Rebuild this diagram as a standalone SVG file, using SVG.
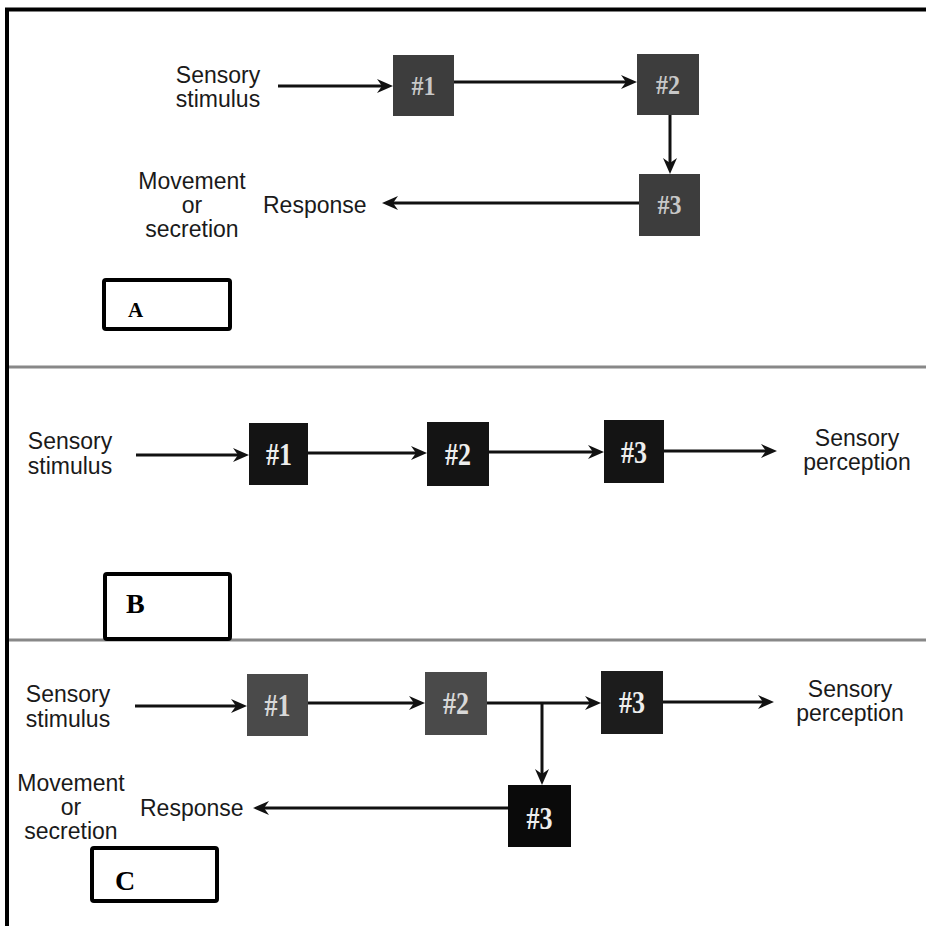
<svg xmlns="http://www.w3.org/2000/svg" width="926" height="926" viewBox="0 0 926 926">
<defs>
<marker id="ah" markerUnits="userSpaceOnUse" markerWidth="18" markerHeight="16" refX="11" refY="7" orient="auto">
<path d="M0,0 L16,7 L0,14 L5,7 z" fill="#111"/>
</marker>
<style>
.lbl{font-family:"Liberation Sans",Arial,sans-serif;font-size:23px;fill:#1a1a1a;}
.mid{text-anchor:middle;}
.box{stroke:none;}
.bt{font-family:"Liberation Serif","Times New Roman",serif;font-weight:bold;text-anchor:middle;}
.ta{font-size:27px;fill:#c8c8c8;}
.tb{font-size:32px;fill:#eeeeee;}
.conn{stroke:#111;stroke-width:3;fill:none;}
.arr{marker-end:url(#ah);}
.tag{fill:#fff;stroke:#000;stroke-width:4;}
.tagt{font-family:"Liberation Serif","Times New Roman",serif;font-weight:bold;fill:#000;}
.div{stroke:#888;stroke-width:3;}
</style>
</defs>
<rect x="0" y="0" width="926" height="926" fill="#fff"/>
<g id="frame">
<line x1="5" y1="9.5" x2="926" y2="9.5" stroke="#000" stroke-width="4"/>
<line x1="7" y1="8" x2="7" y2="926" stroke="#000" stroke-width="4"/>
<line class="div" x1="9" y1="367" x2="926" y2="367"/>
<line class="div" x1="9" y1="640" x2="926" y2="640"/>
</g>

<g id="connectors">
<line class="conn arr" x1="278" y1="86" x2="388" y2="86"/>
<line class="conn arr" x1="454" y1="82" x2="632" y2="82"/>
<line class="conn arr" x1="670" y1="115" x2="670" y2="169"/>
<line class="conn arr" x1="639" y1="203" x2="387" y2="203"/>
<line class="conn arr" x1="136" y1="455" x2="244" y2="455"/>
<line class="conn arr" x1="308" y1="453" x2="422" y2="453"/>
<line class="conn arr" x1="489" y1="452" x2="599" y2="452"/>
<line class="conn arr" x1="664" y1="451" x2="772" y2="451"/>
<line class="conn arr" x1="135" y1="706" x2="242" y2="706"/>
<line class="conn arr" x1="308" y1="703" x2="420" y2="703"/>
<line class="conn arr" x1="487" y1="703" x2="596" y2="703"/>
<line class="conn arr" x1="542" y1="703" x2="542" y2="780"/>
<line class="conn arr" x1="663" y1="702" x2="769" y2="702"/>
<line class="conn arr" x1="508" y1="808" x2="258" y2="808"/>
</g>

<g id="a-stimulus">
<text class="lbl mid" x="218" y="83" font-size="24">Sensory</text>
<text class="lbl mid" x="218" y="107" font-size="24">stimulus</text>
</g>
<g id="a-n1">
<rect class="box" x="393" y="55" width="61" height="61" fill="#3d3d3d"/>
<text class="bt ta" x="423.5" y="95" textLength="24" lengthAdjust="spacingAndGlyphs">#1</text>
</g>
<g id="a-n2">
<rect class="box" x="637" y="54" width="62" height="61" fill="#3d3d3d"/>
<text class="bt ta" x="668" y="94" textLength="24" lengthAdjust="spacingAndGlyphs">#2</text>
</g>
<g id="a-n3">
<rect class="box" x="639" y="174" width="61" height="62" fill="#3d3d3d"/>
<text class="bt ta" x="669.5" y="214" textLength="24" lengthAdjust="spacingAndGlyphs">#3</text>
</g>
<g id="a-response">
<text class="lbl" x="263" y="213" font-size="24">Response</text>
</g>
<g id="a-movement">
<text class="lbl mid" x="192" y="189">Movement</text>
<text class="lbl mid" x="192" y="213">or</text>
<text class="lbl mid" x="192" y="237">secretion</text>
</g>
<g id="a-tag">
<rect class="tag" x="104" y="280" width="126" height="49" rx="2"/>
<text class="tagt" x="128" y="317" font-size="21">A</text>
</g>

<g id="b-stimulus">
<text class="lbl mid" x="70" y="449" font-size="24">Sensory</text>
<text class="lbl mid" x="70" y="474" font-size="24">stimulus</text>
</g>
<g id="b-n1">
<rect class="box" x="249" y="423" width="59" height="62" fill="#141414"/>
<text class="bt tb" x="279" y="465" textLength="26" lengthAdjust="spacingAndGlyphs">#1</text>
</g>
<g id="b-n2">
<rect class="box" x="427" y="422" width="62" height="64" fill="#141414"/>
<text class="bt tb" x="458" y="465" textLength="26" lengthAdjust="spacingAndGlyphs">#2</text>
</g>
<g id="b-n3">
<rect class="box" x="604" y="420" width="60" height="63" fill="#141414"/>
<text class="bt tb" x="634" y="463" textLength="26" lengthAdjust="spacingAndGlyphs">#3</text>
</g>
<g id="b-perception">
<text class="lbl mid" x="857" y="446" font-size="24">Sensory</text>
<text class="lbl mid" x="857" y="470" font-size="24">perception</text>
</g>
<g id="b-tag">
<rect class="tag" x="105" y="574" width="125" height="65" rx="2"/>
<text class="tagt" x="126" y="613" font-size="28">B</text>
</g>

<g id="c-stimulus">
<text class="lbl mid" x="68" y="702" font-size="24">Sensory</text>
<text class="lbl mid" x="68" y="727" font-size="24">stimulus</text>
</g>
<g id="c-n1">
<rect class="box" x="247" y="674" width="61" height="62" fill="#4a4a4a"/>
<text class="bt tb" x="277.5" y="716" textLength="26" lengthAdjust="spacingAndGlyphs" style="fill:#d8d8d8">#1</text>
</g>
<g id="c-n2">
<rect class="box" x="425" y="672" width="62" height="63" fill="#4a4a4a"/>
<text class="bt tb" x="456" y="714" textLength="26" lengthAdjust="spacingAndGlyphs" style="fill:#d8d8d8">#2</text>
</g>
<g id="c-n3">
<rect class="box" x="601" y="671" width="62" height="63" fill="#1c1c1c"/>
<text class="bt tb" x="632" y="713" textLength="26" lengthAdjust="spacingAndGlyphs">#3</text>
</g>
<g id="c-perception">
<text class="lbl mid" x="850" y="697" font-size="24">Sensory</text>
<text class="lbl mid" x="850" y="721" font-size="24">perception</text>
</g>
<g id="c-n3b">
<rect class="box" x="508" y="785" width="63" height="62" fill="#0a0a0a"/>
<text class="bt tb" x="539.5" y="829" textLength="26" lengthAdjust="spacingAndGlyphs">#3</text>
</g>
<g id="c-response">
<text class="lbl" x="140" y="816" font-size="24">Response</text>
</g>
<g id="c-movement">
<text class="lbl mid" x="71" y="791" font-size="22">Movement</text>
<text class="lbl mid" x="71" y="815" font-size="22">or</text>
<text class="lbl mid" x="71" y="839" font-size="22">secretion</text>
</g>
<g id="c-tag">
<rect class="tag" x="92" y="848" width="125" height="53" rx="2"/>
<text class="tagt" x="115" y="890" font-size="28">C</text>
</g>
</svg>
